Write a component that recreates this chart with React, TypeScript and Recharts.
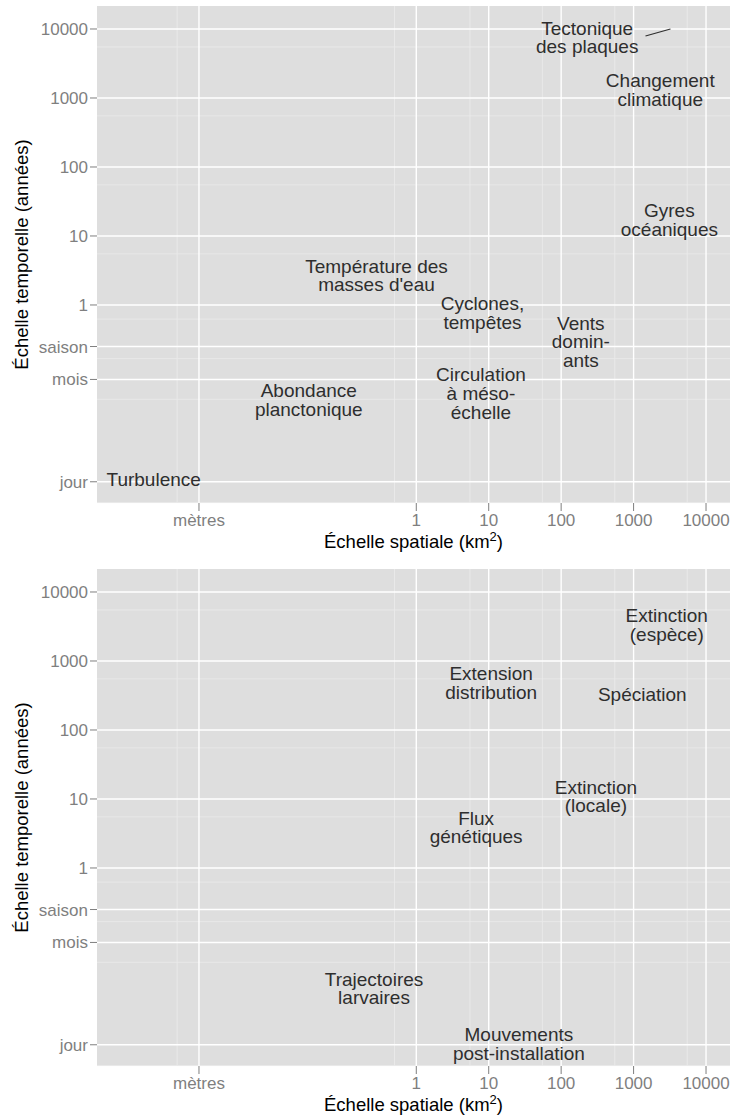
import React from "react";
import {
  ScatterChart,
  Scatter,
  XAxis,
  YAxis,
  CartesianGrid,
  ReferenceLine,
  Label,
} from "recharts";

// axes (km² en x, années en y)
const xTicks = [0.001, 1, 10, 100, 1000, 10000];
const xTickLabels = ["mètres", "1", "10", "100", "1000", "10000"];
const xMinor = [0.0005, 0.5005, 5.5, 55, 550, 5500];

const yTicks = [1 / 365, 1 / 12, 0.25, 1, 10, 100, 1000, 10000];
const yTickLabels = ["jour", "mois", "saison", "1", "10", "100", "1000", "10000"];
const yMinor = [1 / 730, 0.04303, 0.16667, 0.625, 5.5, 55, 550, 5500];

const xDomain = [3.91e-5, 21430];
const yDomain = [0.001349, 21540];

// panneau du haut : processus physiques
const physLabels = [
  "Tectonique\ndes plaques",
  "Changement\nclimatique",
  "Gyres\nocéaniques",
  "Température des\nmasses d'eau",
  "Cyclones,\ntempêtes",
  "Vents\ndomin-\nants",
  "Circulation\nà méso-\néchelle",
  "Abondance\nplanctonique",
  "Turbulence",
];
const physX = [229, 2335, 3119, 0.2825, 8.21, 187, 7.8, 0.0328, 0.000237];
const physY = [7550, 1327, 17.3, 2.68, 0.778, 0.294, 0.0525, 0.042, 0.003];

// trait à côté de "Tectonique"
const segX = [1460, 3230];
const segY = [7900, 10000];

// panneau du bas : processus biologiques
const bioLabels = [
  "Extinction\n(espèce)",
  "Extension\ndistribution",
  "Spéciation",
  "Extinction\n(locale)",
  "Flux\ngénétiques",
  "Trajectoires\nlarvaires",
  "Mouvements\npost-installation",
];
const bioX = [2870, 10.8, 1318, 302, 6.7, 0.261, 26.1];
const bioY = [3325, 480, 333, 10.9, 3.87, 0.01794, 0.00281];

const FONT = '"Liberation Sans", Arial, Helvetica, sans-serif';
const LINE_H = 18.7;

const renderText = (props: any) => {
  const { cx, cy, payload } = props;
  const lines: string[] = String(payload.label).split("\n");
  const n = lines.length;
  return (
    <text
      textAnchor="middle"
      fontFamily={FONT}
      fontSize={19}
      fill="#2E2E2E"
    >
      {lines.map((l, i) => (
        <tspan key={i} x={cx} y={cy + (i - (n - 1) / 2) * LINE_H} dy="0.35em">
          {l}
        </tspan>
      ))}
    </text>
  );
};

const xTitle = (props: any) => {
  const { viewBox } = props;
  const cx = viewBox.x + viewBox.width / 2;
  return (
    <text
      x={cx}
      y={viewBox.y + 45}
      textAnchor="middle"
      fontFamily={FONT}
      fontSize={18.5}
      fill="#000"
    >
      Échelle spatiale (km
      <tspan fontSize={13} dy={-7}>
        2
      </tspan>
      <tspan dy={7}>)</tspan>
    </text>
  );
};

const yTitle = (props: any) => {
  const { viewBox } = props;
  const cy = viewBox.y + viewBox.height / 2;
  return (
    <text
      x={28}
      y={cy}
      transform={`rotate(-90, 28, ${cy})`}
      textAnchor="middle"
      fontFamily={FONT}
      fontSize={18.5}
      fill="#000"
    >
      Échelle temporelle (années)
    </text>
  );
};

type PanelProps = {
  labels: string[];
  xs: number[];
  ys: number[];
  height: number;
  withSegment?: boolean;
};

const Panel: React.FC<PanelProps> = ({ labels, xs, ys, height, withSegment }) => {
  const data = labels.map((label, i) => ({ label, x: xs[i], y: ys[i] }));
  const tickStyle = { fontSize: 17, fill: "#7F7F7F", fontFamily: FONT };

  return (
    <ScatterChart
      width={730}
      height={height}
      margin={{ top: 6, right: 0, bottom: 0, left: 0 }}
    >
      <CartesianGrid
        fill="#DEDEDE"
        stroke="#EAEAEA"
        strokeWidth={0.9}
        horizontalValues={yMinor}
        verticalValues={xMinor}
      />
      <CartesianGrid
        stroke="#FFFFFF"
        strokeWidth={1.4}
        horizontalValues={yTicks}
        verticalValues={xTicks}
      />
      <XAxis
        type="number"
        dataKey="x"
        scale="log"
        domain={xDomain}
        allowDataOverflow
        ticks={xTicks}
        interval={0}
        tickFormatter={(v: number) => xTickLabels[xTicks.indexOf(v)] ?? ""}
        axisLine={false}
        tickLine={{ stroke: "#7F7F7F" }}
        tickSize={8}
        tickMargin={3}
        tick={tickStyle}
        height={height - 503}
      >
        <Label content={xTitle} />
      </XAxis>
      <YAxis
        type="number"
        dataKey="y"
        scale="log"
        domain={yDomain}
        allowDataOverflow
        ticks={yTicks}
        interval={0}
        tickFormatter={(v: number) => yTickLabels[yTicks.indexOf(v)] ?? ""}
        axisLine={false}
        tickLine={{ stroke: "#7F7F7F" }}
        tickSize={7}
        tickMargin={2}
        tick={tickStyle}
        width={97}
      >
        <Label content={yTitle} />
      </YAxis>
      {withSegment && (
        <ReferenceLine
          segment={[
            { x: segX[0], y: segY[0] },
            { x: segX[1], y: segY[1] },
          ]}
          stroke="#2E2E2E"
          strokeWidth={1.1}
          ifOverflow="visible"
        />
      )}
      <Scatter data={data} shape={renderText} isAnimationActive={false} />
    </ScatterChart>
  );
};

export default function App() {
  return (
    <div
      style={{
        position: "absolute",
        left: 0,
        top: 0,
        width: 730,
        height: 1115,
        overflow: "hidden",
        background: "#fff",
      }}
    >
      <Panel labels={physLabels} xs={physX} ys={physY} height={563} withSegment />
      <Panel labels={bioLabels} xs={bioX} ys={bioY} height={552} />
    </div>
  );
}
